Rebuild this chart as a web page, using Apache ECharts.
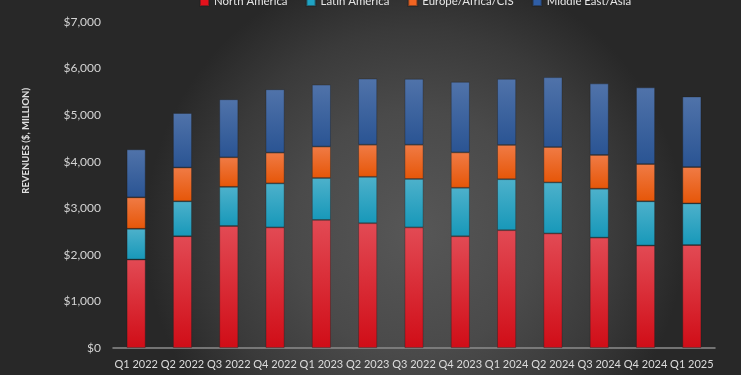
<!DOCTYPE html>
<html>
<head>
<meta charset="utf-8">
<script src="https://cdn.jsdelivr.net/npm/echarts@6/dist/echarts.min.js"></script>
<style>
  html, body { margin: 0; padding: 0; background: #ffffff; }
  #chart { width: 741px; height: 375px; }
</style>
</head>
<body>
<div id="chart"></div>
<script>
const quarters = ['Q1 2022', 'Q2 2022', 'Q3 2022', 'Q4 2022', 'Q1 2023', 'Q2 2023', 'Q3 2022',
  'Q4 2023', 'Q1 2024', 'Q2 2024', 'Q3 2024', 'Q4 2024', 'Q1 2025']

// revenues, $ million
const northAmerica = [1900, 2400, 2620, 2590, 2750, 2680, 2590, 2400, 2530, 2460, 2370, 2200, 2210]
const latinAmerica = [660, 750, 840, 945, 900, 995, 1040, 1040, 1095, 1095, 1050, 950, 895]
const europeAfricaCis = [675, 725, 635, 660, 675, 690, 735, 760, 735, 760, 725, 800, 780]
const middleEastAsia = [1030, 1170, 1245, 1360, 1330, 1420, 1415, 1515, 1420, 1500, 1535, 1645, 1515]

const yTicks = [0, 1000, 2000, 3000, 4000, 5000, 6000, 7000]

const vGrad = (top, bottom) => ({
  type: 'linear', x: 0, y: 0, x2: 0, y2: 1,
  colorStops: [{ offset: 0, color: top }, { offset: 1, color: bottom }]
})

const regions = [
  { name: 'North America', data: northAmerica, legend: '#e3121c', top: '#e24a54', bottom: '#d00d17' },
  { name: 'Latin America', data: latinAmerica, legend: '#1fa3c4', top: '#4db1cb', bottom: '#1798b9' },
  { name: 'Europe/Africa/CIS', data: europeAfricaCis, legend: '#f26522', top: '#f07b45', bottom: '#e65608' },
  { name: 'Middle East/Asia', data: middleEastAsia, legend: '#2f5ea6', top: '#5073aa', bottom: '#2a5493' }
]

const chart = echarts.init(document.getElementById('chart'))

const option = {
  backgroundColor: {
    type: 'radial', x: 0.56, y: 0.62, r: 0.72,
    colorStops: [
      { offset: 0, color: '#575757' },
      { offset: 0.45, color: '#4a4a4a' },
      { offset: 0.75, color: '#3a3a3a' },
      { offset: 1, color: '#282828' }
    ]
  },
  animation: false,
  legend: {
    top: -9,
    left: 194,
    itemWidth: 9,
    itemHeight: 9,
    itemGap: 18,
    icon: 'rect',
    textStyle: { color: '#e6e6e6', fontSize: 11.4, fontFamily: 'Lato' },
    data: regions.map(r => ({ name: r.name, itemStyle: { color: r.legend } }))
  },
  grid: {
    left: 113,
    right: 26,
    top: 22,
    bottom: 27
  },
  xAxis: {
    type: 'category',
    data: quarters,
    axisLine: { lineStyle: { color: '#8c8c8c', width: 1.5 } },
    axisTick: { show: false },
    axisLabel: {
      interval: 0,
      color: '#dcdcdc',
      fontSize: 11,
      fontFamily: 'Lato',
      margin: 11
    }
  },
  yAxis: {
    type: 'value',
    min: yTicks[0],
    max: yTicks[yTicks.length - 1],
    interval: 1000,
    splitLine: { show: false },
    axisLine: { show: false },
    axisTick: { show: false },
    axisLabel: {
      color: '#d4d4d4',
      fontSize: 12,
      fontFamily: 'Lato',
      margin: 12,
      formatter: v => '$' + v.toLocaleString('en-US')
    }
  },
  graphic: [{
    type: 'text',
    left: 21,
    top: 88,
    rotation: Math.PI / 2,
    style: {
      text: 'REVENUES ($, MILLION)',
      fill: '#e0e0e0',
      font: 'bold 9.5px Lato'
    }
  }],
  series: regions.map(r => ({
    name: r.name,
    type: 'bar',
    stack: 'total',
    barWidth: '41%',
    data: r.data,
    itemStyle: {
      color: vGrad(r.top, r.bottom),
      borderColor: 'rgba(30,30,30,0.45)',
      borderWidth: 0.8
    }
  }))
}

chart.setOption(option)
</script>
</body>
</html>
